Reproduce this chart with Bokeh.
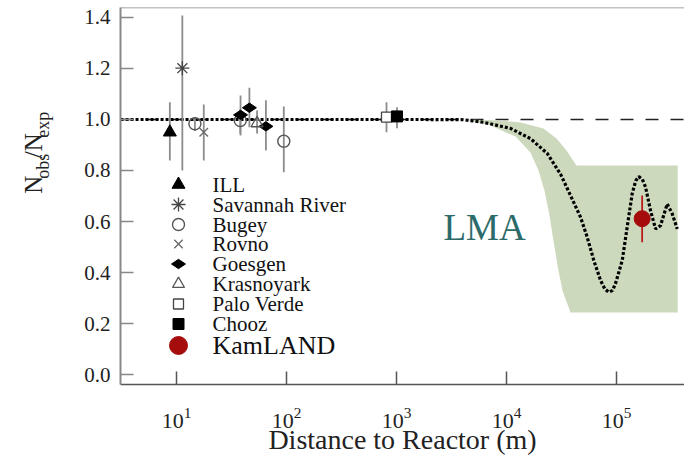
import math
from bokeh.plotting import figure
from bokeh.layouts import row
from bokeh.models import FixedTicker, PrintfTickFormatter, Span, Label, LogTicker
from bokeh.core.properties import value
from bokeh.embed import file_html
from bokeh.resources import INLINE

FONT = "Liberation Serif"

# ---------------- data (distance in m, ratio Nobs/Nexp) ----------------
ill_dist = [8.7];      ill_ratio = [0.950];   ill_lo = [0.839];   ill_hi = [1.068]
sr_dist = [11.3];      sr_ratio = [1.201];    sr_lo = [0.800];    sr_hi = [1.408]
bugey_dist = [14.7, 38.0, 94.5]
bugey_ratio = [0.983, 0.996, 0.915]
bugey_lo = [0.955, 0.945, 0.793]
bugey_hi = [1.010, 1.040, 1.051]
rovno_dist = [17.7];   rovno_ratio = [0.950]; rovno_lo = [0.839]; rovno_hi = [1.059]
goesgen_dist = [38.2, 46.0, 65.0]
goesgen_ratio = [1.018, 1.046, 0.973]
goesgen_lo = [0.937, 0.970, 0.878]
goesgen_hi = [1.094, 1.124, 1.075]
kras_dist = [54.0];    kras_ratio = [0.985];  kras_lo = [0.945];  kras_hi = [1.035]
pv_dist = [811.0];     pv_ratio = [1.009];    pv_lo = [0.950];    pv_hi = [1.068]
chooz_dist = [1010.0]; chooz_ratio = [1.012]; chooz_lo = [0.966]; chooz_hi = [1.048]
kam_dist = [1.71e5];   kam_ratio = [0.611];   kam_lo = [0.519];   kam_hi = [0.702]

# LMA best-fit oscillation curve
curve_dist = [3.1, 1650, 4060, 6180, 1.086e4, 1.652e4, 2.344e4, 3.097e4, 3.819e4,
              4.71e4, 5.42e4, 6.223e4, 7.161e4, 7.85e4, 8.511e4, 9.22e4, 9.795e4,
              1.127e5, 1.25e5, 1.39e5, 1.496e5, 1.596e5, 1.718e5, 1.837e5, 2.037e5,
              2.265e5, 2.512e5, 2.891e5, 3.206e5, 3.565e5]
curve_ratio = [1.0, 1.0, 0.999, 0.989, 0.965, 0.925, 0.867, 0.786, 0.702,
               0.617, 0.538, 0.447, 0.369, 0.335, 0.323, 0.330, 0.357,
               0.447, 0.578, 0.710, 0.760, 0.776, 0.765, 0.735, 0.643,
               0.571, 0.584, 0.669, 0.631, 0.571]

# LMA allowed band
band_lower_dist = [4060, 7160, 1.208e4, 1.652e4, 1.954e4, 2.213e4, 2.46e4, 2.673e4,
                   2.911e4, 3.228e4, 3.819e4, 3.6e5]
band_lower_ratio = [1.0, 0.976, 0.933, 0.871, 0.800, 0.722, 0.624, 0.525,
                    0.427, 0.329, 0.243, 0.243]
band_upper_dist = [4060, 8810, 1.340e4, 2.168e4, 2.851e4, 3.508e4, 4.325e4, 3.6e5]
band_upper_ratio = [1.0, 0.996, 0.988, 0.965, 0.925, 0.878, 0.820, 0.820]

y_ticks = [0.0, 0.2, 0.4, 0.6, 0.8, 1.0, 1.2, 1.4]
legend_labels = ["ILL", "Savannah River", "Bugey", "Rovno", "Goesgen",
                 "Krasnoyark", "Palo Verde", "Chooz", "KamLAND"]
x_title = "Distance to Reactor (m)"
y_title_parts = ["N", "obs", "/N", "exp"]

# ---------------- layout ----------------
LW = 60                         # width of the y-title strip
W, H = 684 - LW, 459
BL, BR, BT, BB = 60, 0, 7, 75
FW, FH = W - BL - BR, H - BT - BB
X_START, X_END = 3.097, 4.15e5
Y_START, Y_END = -0.039, 1.439


def fx_to_data(fx):
    l0, l1 = math.log10(X_START), math.log10(X_END)
    return 10 ** (l0 + fx / FW * (l1 - l0))


def fy_to_data(fy_from_top):
    return Y_END - fy_from_top / FH * (Y_END - Y_START)


p = figure(width=W, height=H, x_axis_type="log",
           x_range=(X_START, X_END), y_range=(Y_START, Y_END),
           output_backend="svg", toolbar_location=None,
           min_border_left=BL, min_border_right=BR,
           min_border_top=BT, min_border_bottom=BB)
p.background_fill_color = "white"
p.border_fill_color = "white"
p.outline_line_color = None
p.grid.visible = False

xa = p.xaxis[0]
xa.ticker = LogTicker(desired_num_ticks=6)
xa.major_tick_in = 13
xa.major_tick_out = 0
xa.minor_tick_line_color = None
xa.axis_line_color = "#555555"
xa.axis_line_width = 1.5
xa.major_tick_line_color = "#555555"
xa.major_tick_line_width = 1.5
xa.major_label_text_font = FONT
xa.major_label_text_font_size = "22px"
xa.major_label_text_color = "#222222"
xa.major_label_standoff = 19
xa.axis_label = x_title
xa.axis_label_text_font = FONT
xa.axis_label_text_font_size = "28px"
xa.axis_label_text_font_style = "normal"
xa.axis_label_text_color = "#222222"
xa.axis_label_standoff = -7

ya = p.yaxis[0]
ya.ticker = FixedTicker(ticks=y_ticks)
ya.formatter = PrintfTickFormatter(format="%.1f")
ya.major_tick_in = 13
ya.major_tick_out = 0
ya.minor_tick_line_color = None
ya.axis_line_color = "#888888"
ya.axis_line_width = 2
ya.major_tick_line_color = "#888888"
ya.major_tick_line_width = 1.5
ya.major_label_text_font = FONT
ya.major_label_text_font_size = "21px"
ya.major_label_text_color = "#222222"
ya.major_label_standoff = 10

# top frame line
p.add_layout(Span(location=Y_END, dimension="width", line_color="#888888", line_width=1.5))

# band
p.patch(band_lower_dist + band_upper_dist[::-1], band_lower_ratio + band_upper_ratio[::-1],
        fill_color="#cdd9bd", line_color=None)

# no-oscillation line
p.add_layout(Span(location=1.0, dimension="width", line_color="#222222", line_width=1.3,
                  line_dash="13 12", level="underlay"))

# oscillation curve
p.line(curve_dist, curve_ratio, line_color="black", line_width=3.2, line_dash="3 2")

ERR = "#8c8c8c"
for d, lo, hi in [(ill_dist, ill_lo, ill_hi), (sr_dist, sr_lo, sr_hi),
                  (bugey_dist, bugey_lo, bugey_hi), (rovno_dist, rovno_lo, rovno_hi),
                  (goesgen_dist, goesgen_lo, goesgen_hi), (kras_dist, kras_lo, kras_hi),
                  (pv_dist, pv_lo, pv_hi), (chooz_dist, chooz_lo, chooz_hi)]:
    p.segment(x0=d, y0=lo, x1=d, y1=hi, line_color=ERR, line_width=1.8)
p.segment(x0=kam_dist, y0=kam_lo, x1=kam_dist, y1=kam_hi, line_color="#b81d1d", line_width=1.8)

styles = [
    dict(marker="triangle", size=13, fill_color="black", line_color="black"),
    dict(marker="asterisk", size=14, line_color="#444444", line_width=1.3),
    dict(marker="circle", size=12, fill_color=None, line_color="#555555", line_width=1.4),
    dict(marker="x", size=12, line_color="#666666", line_width=1.3),
    dict(marker="diamond", size=14, angle=math.pi / 2, fill_color="black", line_color="black"),
    dict(marker="triangle", size=12, fill_color=None, line_color="#555555", line_width=1.3),
    dict(marker="square", size=10, fill_color="white", line_color="#444444", line_width=1.3),
    dict(marker="square", size=11, fill_color="black", line_color="black"),
    dict(marker="circle", size=16, fill_color="#a50d0d", line_color="#a50d0d"),
]
series = [(ill_dist, ill_ratio), (sr_dist, sr_ratio), (bugey_dist, bugey_ratio),
          (rovno_dist, rovno_ratio), (goesgen_dist, goesgen_ratio), (kras_dist, kras_ratio),
          (pv_dist, pv_ratio), (chooz_dist, chooz_ratio), (kam_dist, kam_ratio)]
for (d, r), st in zip(series, styles):
    p.scatter(d, r, **st)

# ---- hand-made legend ----
LEG_X = 58                       # marker centre, px from frame left
LEG_ROWS = [177, 197, 217, 236.5, 256.5, 276.5, 296.5, 316.5, 338]   # px from frame top
for i, (lab, st) in enumerate(zip(legend_labels, styles)):
    fy = LEG_ROWS[i]
    st2 = dict(st)
    if lab == "KamLAND":
        st2["size"] = 18
    p.scatter([fx_to_data(LEG_X)], [fy_to_data(fy)], **st2)
    p.add_layout(Label(x=92, y=FH - fy, x_units="screen", y_units="screen", text=lab,
                       text_font=FONT, text_font_size="26px" if lab == "KamLAND" else "21px",
                       text_color="#111111", text_baseline="middle", text_align="left"))

# LMA label
p.add_layout(Label(x=323, y=157, x_units="screen", y_units="screen", text="LMA",
                   text_font=FONT, text_font_size="37px", text_color="#2d6a6a",
                   text_baseline="alphabetic", text_align="left"))

# ---- y-title strip (N_obs / N_exp, rotated) ----
lf = figure(width=LW, height=H, x_range=(0, LW), y_range=(H, 0),
            output_backend="svg", toolbar_location=None,
            min_border_left=0, min_border_right=0, min_border_top=0, min_border_bottom=0)
lf.axis.visible = False
lf.grid.visible = False
lf.outline_line_color = None
lf.background_fill_color = "white"
lf.border_fill_color = "white"
piece_pos = [(33.3, 226.7, "25px"), (42.7, 208.6, "18px"),
             (33.3, 183.6, "25px"), (42.7, 158.6, "18px")]
for txt, (px, py, fs) in zip(y_title_parts, piece_pos):
    lf.text(x=[px], y=[py], text=[txt], angle=math.pi / 2,
            text_font=value(FONT), text_font_size=fs, text_color="#222222",
            text_align="left", text_baseline="alphabetic")

layout = row(lf, p)
open("out.html", "w").write(file_html(layout, INLINE))
